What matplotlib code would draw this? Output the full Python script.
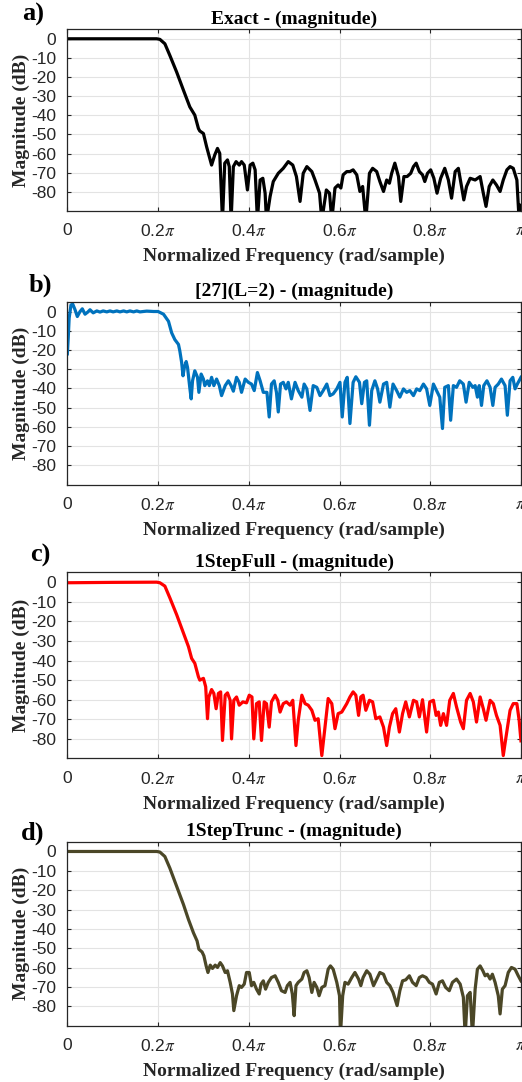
import numpy as np
import matplotlib
matplotlib.use("Agg")
import matplotlib.pyplot as plt

plt.rcParams['font.family'] = ['Liberation Sans', 'DejaVu Sans']
plt.rcParams['mathtext.fontset'] = 'stix'
plt.rcParams['axes.unicode_minus'] = False

# frecuencia normalizada (x pi) y magnitud en dB
exact_w = [0, 0.197, 0.204, 0.215, 0.226, 0.241, 0.256, 0.270, 0.281, 0.289, 0.292, 0.300, 0.307, 0.318, 0.325,
           0.331, 0.336, 0.342, 0.347, 0.353, 0.357, 0.361, 0.366, 0.372, 0.379, 0.384, 0.390, 0.397, 0.403, 0.409,
           0.414, 0.419, 0.425, 0.431, 0.436, 0.439, 0.447, 0.454, 0.465, 0.476, 0.487, 0.497, 0.505, 0.513, 0.520,
           0.528, 0.539, 0.546, 0.556, 0.561, 0.571, 0.578, 0.583, 0.590, 0.597, 0.603, 0.608, 0.616, 0.623, 0.630,
           0.638, 0.645, 0.651, 0.658, 0.666, 0.673, 0.682, 0.689, 0.697, 0.704, 0.710, 0.715, 0.722, 0.730, 0.735,
           0.742, 0.749, 0.757, 0.763, 0.769, 0.776, 0.783, 0.788, 0.794, 0.801, 0.808, 0.815, 0.823, 0.832, 0.840,
           0.847, 0.855, 0.862, 0.869, 0.874, 0.880, 0.888, 0.899, 0.910, 0.917, 0.923, 0.930, 0.938, 0.946, 0.954,
           0.961, 0.969, 0.976, 0.983, 0.991, 0.996, 1.0]
exact_db = [0, 0, -0.3, -2.6, -8.7, -17.4, -26.9, -35.6, -39.9, -46.9, -48.2, -49.5, -56.4, -66, -60.7,
            -57.3, -59.9, -95, -65, -63.3, -66.8, -95, -66.8, -64.2, -66, -64.2, -66, -79, -66, -65,
            -68.5, -95, -73.8, -72.9, -80.7, -95, -82.4, -74.6, -70.3, -67.7, -64.2, -66, -72, -85, -70.3,
            -66.8, -69.4, -73.8, -80.7, -95, -79, -80.7, -95, -78, -76.4, -78, -71.1, -69.4, -69.4, -68.5,
            -71.1, -79.8, -77.2, -95, -70.3, -67.7, -69.4, -74.6, -79.8, -73.8, -75.5, -70.3, -65, -72, -85,
            -72, -72, -70.3, -66.8, -65, -69.4, -71.1, -74.6, -70.3, -68.5, -72.9, -80.7, -72.9, -67.7, -73.8,
            -83.3, -69.4, -67.7, -77.2, -84.2, -77.2, -72.9, -73.8, -72, -80.7, -87.6, -77.2, -73.8, -76.4, -79.8,
            -73.8, -68.5, -66.8, -67.7, -73.8, -95, -87]

ref27_w = [0, 0.002, 0.004, 0.008, 0.012, 0.017, 0.022, 0.028, 0.033, 0.039, 0.045, 0.050, 0.057, 0.065, 0.072,
           0.079, 0.087, 0.094, 0.101, 0.109, 0.116, 0.124, 0.131, 0.138, 0.146, 0.153, 0.160, 0.175, 0.190, 0.200,
           0.212, 0.223, 0.230, 0.237, 0.245, 0.248, 0.252, 0.255, 0.258, 0.262, 0.265, 0.270, 0.273, 0.276, 0.281,
           0.287, 0.290, 0.295, 0.300, 0.303, 0.309, 0.313, 0.318, 0.323, 0.329, 0.335, 0.340, 0.348, 0.355, 0.361,
           0.366, 0.373, 0.379, 0.384, 0.392, 0.399, 0.406, 0.412, 0.419, 0.425, 0.432, 0.440, 0.445, 0.450, 0.456,
           0.461, 0.465, 0.470, 0.476, 0.482, 0.487, 0.494, 0.502, 0.509, 0.517, 0.522, 0.528, 0.535, 0.542, 0.550,
           0.557, 0.564, 0.572, 0.579, 0.586, 0.594, 0.601, 0.606, 0.612, 0.617, 0.623, 0.630, 0.636, 0.644, 0.649,
           0.655, 0.660, 0.666, 0.671, 0.678, 0.684, 0.689, 0.697, 0.704, 0.711, 0.718, 0.726, 0.733, 0.741, 0.748,
           0.755, 0.763, 0.770, 0.777, 0.785, 0.792, 0.799, 0.807, 0.814, 0.821, 0.827, 0.832, 0.840, 0.845, 0.851,
           0.858, 0.865, 0.873, 0.879, 0.886, 0.894, 0.899, 0.904, 0.908, 0.913, 0.918, 0.925, 0.932, 0.938, 0.943,
           0.950, 0.957, 0.965, 0.970, 0.976, 0.982, 0.987, 0.992, 1.0]
ref27_db = [-22, -13.7, -3.4, 3.4, 3.8, 0.9, -2.6, 0, 1.4, -1.4, -0.3, 0.9, -0.7, 0.3, -0.3,
            0.3, -0.2, 0.3, -0.2, 0.3, -0.2, 0.3, -0.2, 0.3, -0.2, 0.3, -0.2, 0.2, 0, 0,
            -1.4, -5.1, -11.1, -14.6, -17.1, -20.5, -26.5, -33.4, -29.1, -26, -29.1, -39.7, -45.4, -36, -30.8,
            -34.2, -42, -32.5, -35.1, -38.5, -36, -38.5, -34.2, -38.5, -35.1, -38.5, -43.7, -38.5, -36, -38.5,
            -41.4, -34.2, -36.8, -42, -35.1, -36.8, -37.7, -41.1, -31.7, -36, -42, -42, -54.8, -37.7, -36,
            -42, -52.2, -37.7, -36.8, -40.2, -36.8, -45.4, -36.8, -41.1, -44.5, -37.7, -40.2, -51.4, -38.5, -39.4,
            -43.7, -41.1, -37.7, -43.7, -42.8, -40.2, -36.8, -54.8, -36.8, -34.2, -58.2, -36.8, -33.9, -36.8, -47.9,
            -36.8, -36, -59.1, -41.1, -36, -40.2, -47.1, -37.7, -36.8, -49.7, -37.7, -41.1, -44.5, -40.2, -42,
            -41.1, -43.7, -40.2, -41.1, -37.7, -40.2, -48.8, -37.7, -41.1, -44.5, -60.8, -39.4, -38.5, -56.5, -38.5,
            -39.4, -36, -37.7, -47.1, -36.8, -39.4, -38.5, -44.5, -38.5, -48.8, -38.5, -36, -39.4, -48.8, -39.4,
            -37.7, -35.1, -38.5, -53.9, -36, -34.2, -40.2, -37.7, -34.2]

full_w = [0, 0.100, 0.197, 0.204, 0.215, 0.226, 0.241, 0.256, 0.267, 0.274, 0.281, 0.289, 0.292, 0.300, 0.305,
          0.309, 0.312, 0.318, 0.323, 0.328, 0.333, 0.338, 0.342, 0.348, 0.353, 0.359, 0.362, 0.367, 0.373, 0.379,
          0.387, 0.395, 0.401, 0.407, 0.411, 0.417, 0.423, 0.428, 0.434, 0.439, 0.445, 0.450, 0.458, 0.464, 0.469,
          0.476, 0.483, 0.491, 0.497, 0.504, 0.509, 0.517, 0.524, 0.531, 0.539, 0.546, 0.553, 0.561, 0.568, 0.575,
          0.583, 0.590, 0.597, 0.605, 0.616, 0.623, 0.630, 0.636, 0.642, 0.647, 0.652, 0.658, 0.666, 0.673, 0.680,
          0.689, 0.697, 0.704, 0.710, 0.717, 0.724, 0.732, 0.739, 0.746, 0.754, 0.763, 0.770, 0.776, 0.783, 0.792,
          0.799, 0.807, 0.813, 0.818, 0.823, 0.829, 0.836, 0.843, 0.851, 0.858, 0.867, 0.873, 0.880, 0.888, 0.895,
          0.902, 0.910, 0.917, 0.923, 0.932, 0.939, 0.946, 0.954, 0.961, 0.967, 0.976, 0.983, 0.991, 0.996, 1.0]
full_db = [-0.3, -0.1, 0, -0.3, -2, -8, -16.6, -26, -32.9, -38.9, -41.4, -48.3, -50, -49.1, -53.4,
           -69.7, -58.6, -54.8, -56.8, -64.6, -56.8, -56, -80.8, -57.7, -56.5, -60.3, -80, -60.3, -58.6, -62.8,
           -61.1, -61.6, -57.7, -58.6, -80, -62, -61.1, -80.8, -61.1, -62, -74, -61.1, -57.7, -60.3, -66.3,
           -62, -61.1, -62.8, -60.3, -83.4, -70.5, -57.7, -62, -62.8, -65.4, -70.5, -69.7, -88.5, -74, -59.4,
           -62, -74.8, -67.1, -66.3, -62, -58.6, -56, -57.7, -68, -58.6, -57.7, -65.4, -60.3, -61.1, -69.7,
           -68.8, -74, -83.4, -74, -67.1, -64.6, -76.5, -67.1, -61.1, -68.8, -60.3, -61.1, -68.8, -60, -76.5,
           -61.1, -60.3, -68, -66.3, -73.1, -67.1, -73.1, -60.3, -56.8, -63.7, -71.4, -74.8, -60.3, -56.8, -61.1,
           -71.4, -58.6, -64.6, -70.5, -60.3, -62, -68, -73.1, -88.5, -79.1, -65.4, -62, -62, -70.5, -81]

trunc_w = [0, 0.197, 0.204, 0.215, 0.226, 0.241, 0.256, 0.267, 0.278, 0.286, 0.290, 0.297, 0.301, 0.306, 0.310,
           0.315, 0.320, 0.326, 0.331, 0.337, 0.342, 0.348, 0.353, 0.359, 0.364, 0.367, 0.373, 0.379, 0.384, 0.390,
           0.395, 0.401, 0.406, 0.411, 0.417, 0.423, 0.427, 0.432, 0.437, 0.443, 0.450, 0.458, 0.465, 0.472, 0.480,
           0.485, 0.491, 0.496, 0.500, 0.504, 0.509, 0.517, 0.522, 0.528, 0.533, 0.539, 0.544, 0.550, 0.555, 0.561,
           0.568, 0.575, 0.580, 0.586, 0.594, 0.600, 0.602, 0.607, 0.612, 0.619, 0.627, 0.634, 0.642, 0.647, 0.652,
           0.660, 0.667, 0.675, 0.682, 0.689, 0.697, 0.704, 0.711, 0.718, 0.727, 0.733, 0.739, 0.746, 0.754, 0.761,
           0.769, 0.776, 0.783, 0.791, 0.798, 0.805, 0.813, 0.820, 0.827, 0.834, 0.842, 0.849, 0.858, 0.866, 0.873,
           0.877, 0.882, 0.888, 0.893, 0.899, 0.904, 0.910, 0.916, 0.921, 0.926, 0.932, 0.937, 0.943, 0.950, 0.954,
           0.959, 0.965, 0.972, 0.979, 0.987, 0.994, 1.0]
trunc_db = [0, 0, -0.3, -2.6, -8.6, -18, -27.4, -35.1, -42, -46.2, -50.5, -51.9, -53.9, -59.1, -62.5,
            -58.7, -60.4, -58.7, -59.9, -57.4, -59.1, -62.5, -61.6, -67.6, -73.6, -82.2, -74.5, -69.3, -70.2, -68.5,
            -62.5, -62.5, -69.3, -67.6, -71.1, -73.6, -68.5, -66.8, -71.1, -67.6, -65.1, -64.2, -67.6, -71.9, -72.8,
            -69.3, -67.6, -73.6, -84.8, -69.3, -67.6, -65.9, -62.5, -61.6, -65.1, -72.8, -67.6, -70.2, -74.5, -70.2,
            -69.3, -60.8, -59.1, -60.8, -67.6, -74.5, -95, -74.5, -67.6, -68.5, -65.1, -62.5, -65.9, -69.3, -65.1,
            -61.6, -63.4, -69.3, -65.9, -62.5, -63.4, -67.6, -69.3, -72.8, -79.6, -71.9, -66.8, -66.3, -64.2, -67.6,
            -69.3, -65.1, -64.2, -65.1, -67.6, -68.5, -73.6, -67.6, -66.8, -70.2, -71.9, -67.6, -65.9, -68.5, -75.3,
            -95, -74.5, -72.8, -95, -71.1, -60.8, -59.1, -61.6, -64.2, -63.4, -65.9, -63.4, -67.6, -74.5, -83.9,
            -71.1, -69.3, -62.5, -59.9, -60.8, -64.2, -66.8]

paneles = [
    ("a)", "Exact - (magnitude)", exact_w, exact_db, "black"),
    ("b)", "[27](L=2) - (magnitude)", ref27_w, ref27_db, "#0072BD"),
    ("c)", "1StepFull - (magnitude)", full_w, full_db, "#FF0000"),
    ("d)", "1StepTrunc - (magnitude)", trunc_w, trunc_db, "#4B4727"),
]

xticks = [0, 0.2, 0.4, 0.6, 0.8, 1.0]
xticklabels = ["0", r"0.2$\pi$", r"0.4$\pi$", r"0.6$\pi$", r"0.8$\pi$", r"$\pi$"]
yticks = [0, -10, -20, -30, -40, -50, -60, -70, -80]

# posiciones de los ejes (bottom, height) en fraccion de figura
cajas = [(0.805, 0.168), (0.552, 0.169), (0.299, 0.172), (0.052, 0.170)]
pos_letras = [(33, 14), (40, 285), (40, 555), (33, 833)]

fig = plt.figure(figsize=(5.22, 10.82), dpi=100)
serif = ['Liberation Serif', 'DejaVu Serif']

for (letra, titulo, w, db, color), (b, h), (lx, ly) in zip(paneles, cajas, pos_letras):
    ax = fig.add_axes([0.129, b, 0.869, h])
    ax.plot(w, db, color=color, lw=2.3, solid_joinstyle='round')
    ax.set_xlim(0, 1)
    ax.set_ylim(-90, 5)
    ax.set_xticks(xticks)
    ax.set_xticklabels(xticklabels)
    ax.set_yticks(yticks)
    ax.tick_params(direction='in', top=True, right=True, length=3, width=0.8,
                   labelsize=12.5, colors='#262626', pad=8)
    ax.tick_params(axis='x', pad=9)
    ax.grid(True, color='#e3e3e3', lw=0.8)
    ax.set_axisbelow(True)
    for s in ax.spines.values():
        s.set_linewidth(0.9)
        s.set_color('#262626')
    ax.set_title(titulo, family=serif, fontweight='bold', fontsize=14, pad=4)
    ax.set_xlabel("Normalized Frequency (rad/sample)", family=serif, fontweight='bold',
                  fontsize=14, labelpad=6, color='#262626')
    ax.set_ylabel("Magnitude (dB)", family=serif, fontweight='bold', fontsize=14,
                  labelpad=1, color='#262626')
    fig.text(lx / 522, 1 - ly / 1082, letra, family=serif, fontweight='bold', fontsize=19,
             ha='center', va='center')

plt.savefig("out.png", dpi=100)
